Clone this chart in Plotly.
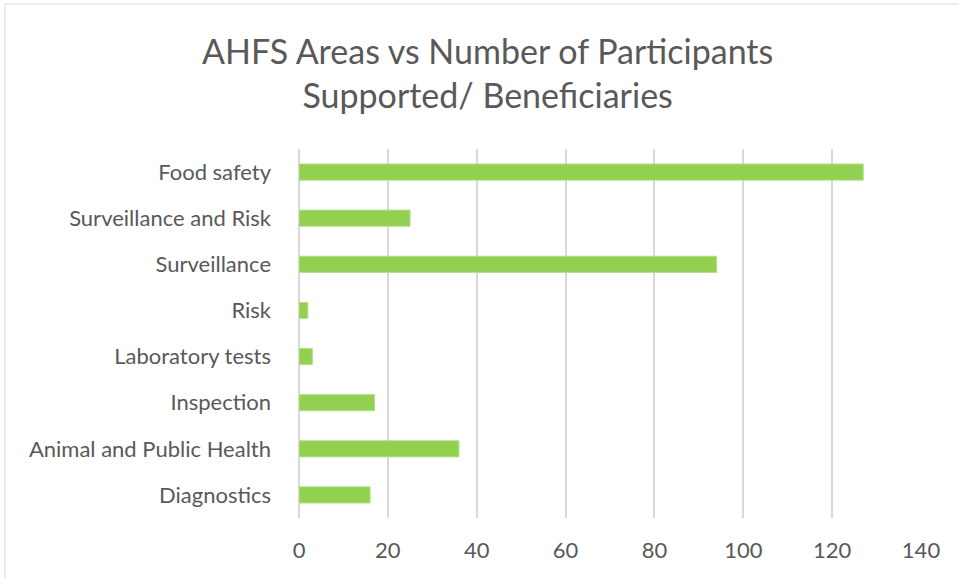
import plotly.graph_objects as go

categories = ["Food safety", "Surveillance and Risk", "Surveillance", "Risk",
              "Laboratory tests", "Inspection", "Animal and Public Health", "Diagnostics"]
values = [127, 25, 94, 2, 3, 17, 36, 16]
tick_vals = [0, 20, 40, 60, 80, 100, 120, 140]
title_text = "AHFS Areas vs Number of Participants<br>Supported/ Beneficiaries"

W, H = 959, 578
L, R, T, B = 299, 38, 149, 60
pw, ph = W - L - R, H - T - B

fig = go.Figure(go.Bar(
    y=categories, x=values, orientation="h",
    marker=dict(color="#92D050", line=dict(color="#B5E08A", width=1)),
    hoverinfo="x+y",
))

font_fam = "Lato, 'Open Sans', sans-serif"

# chart border (Excel chart area), converted to paper coords
bx = (5 - L) / pw
by = 1 + (T - 4) / ph
title_y = 1 + (T - 72) / ph

fig.update_layout(
    width=W, height=H,
    margin=dict(l=L, r=R, t=T, b=B, autoexpand=False),
    paper_bgcolor="white", plot_bgcolor="white",
    bargap=0.65,
    showlegend=False,
    font=dict(family=font_fam, color="#595959", size=22),
    xaxis=dict(
        range=[0, 140], tickvals=tick_vals, showgrid=True,
        gridcolor="#D9D9D9", gridwidth=2, zeroline=True, zerolinecolor="#D9D9D9",
        zerolinewidth=2, showline=False, ticks="", ticklabelstandoff=17,
        tickfont=dict(size=22, color="#595959"), fixedrange=True, automargin=False,
    ),
    yaxis=dict(
        categoryorder="array", categoryarray=categories[::-1],
        showgrid=False, showline=False, ticks="", ticklabelstandoff=27,
        tickfont=dict(size=22, color="#595959"), fixedrange=True, automargin=False,
    ),
    annotations=[dict(
        text=title_text, xref="paper", yref="paper",
        x=(487.5 - L) / pw, y=title_y, xanchor="center", yanchor="middle",
        showarrow=False, align="center",
        font=dict(family=font_fam, size=34, color="#595959"),
    )],
    shapes=[dict(type="rect", xref="paper", yref="paper",
                 x0=bx, x1=2, y0=-1, y1=by,
                 line=dict(color="#D9D9D9", width=1), layer="below")],
)

fig.write_html(
    "out.html",
    config={"displayModeBar": False},
    post_script="document.body.style.margin='0';document.body.style.overflow='hidden';",
)
